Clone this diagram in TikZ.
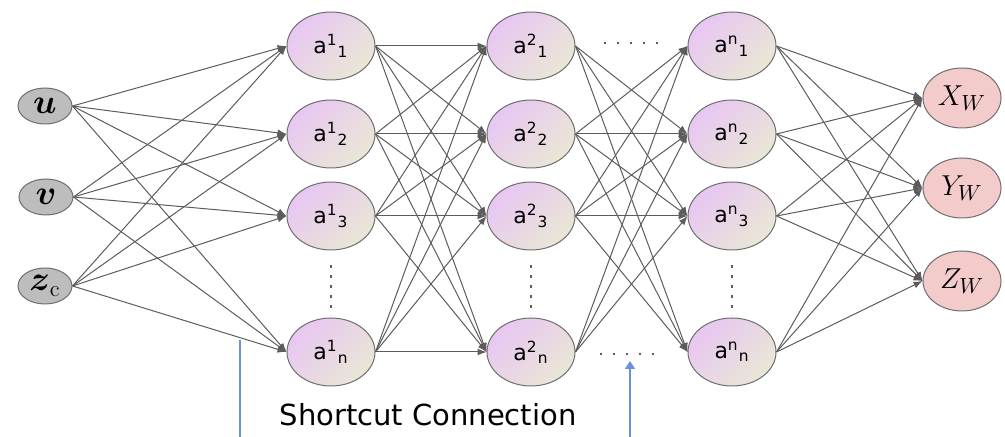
\documentclass[tikz,border=0pt]{standalone}
\usepackage{amsmath}
\usepackage{fontspec}
\setsansfont{DejaVu Sans}
\usetikzlibrary{arrows.meta,shapes.geometric}

\definecolor{ingray}{HTML}{BDBDBD}
\definecolor{hidtop}{HTML}{E8C6F2}
\definecolor{hidbot}{HTML}{E9E7D6}
\definecolor{outpink}{HTML}{F3CBCB}
\definecolor{rimgray}{HTML}{6E6E6E}
\definecolor{wiregray}{HTML}{5C5C5C}
\definecolor{scblue}{HTML}{6A92D8}

\begin{document}
\begin{tikzpicture}[x=0.5pt,y=-0.5pt,
  unit/.style={ellipse,draw=rimgray,line width=0.5pt,inner sep=0pt},
  inunit/.style={unit,fill=ingray,minimum width=27pt,minimum height=18pt,
    font=\fontsize{16}{18}\selectfont},
  hidunit/.style={unit,top color=hidtop,bottom color=hidbot,shading angle=45,
    minimum width=44pt,minimum height=34pt,font=\sffamily\fontsize{11}{13}\selectfont},
  outunit/.style={unit,fill=outpink,minimum width=39pt,minimum height=30pt,
    font=\fontsize{15}{17}\selectfont},
  wire/.style={draw=wiregray,line width=0.5pt,-{Latex[length=4.5pt,width=3.5pt]}},
  vdots/.style={draw=wiregray,line width=1.4pt,dash pattern=on 1.3pt off 3.7pt},
  hdots/.style={draw=wiregray,line width=1.3pt,dash pattern=on 1.3pt off 5.2pt},
  scline/.style={draw=scblue,line width=0.8pt}]

\useasboundingbox (0,0) rectangle (1005,437);

% input layer
\node[inunit] (u)  at (45,106) {$\boldsymbol{u}$};
\node[inunit] (v)  at (46,197) {$\boldsymbol{v}$};
\node[inunit] (zc) at (45,286) {$\boldsymbol{z}_{\mathrm{c}}$};

% hidden layers
\foreach \l/\x in {1/331,2/531,n/732}
  \foreach \k/\y in {1/46,2/134,3/216,n/352}
    \node[hidunit] (h\l\k) at (\x,\y) {a\textsuperscript{\l}\textsubscript{\k}};

% output layer
\node[outunit] (oX) at (962,98)  {$X_W$};
\node[outunit] (oY) at (962,188) {$Y_W$};
\node[outunit] (oZ) at (962,281) {$Z_W$};

% connections
\foreach \i in {u,v,zc}
  \foreach \k in {1,2,3,n}
    \draw[wire] (\i.east) -- (h1\k.west);
\foreach \j in {1,2,3,n}
  \foreach \k in {1,2,3,n}
    \draw[wire] (h1\j.east) -- (h2\k.west);
\foreach \j/\k in {1/2,1/3,1/n,2/1,2/2,2/3,2/n,3/1,3/2,3/3,3/n,n/1,n/2,n/3}
  \draw[wire] (h2\j.east) -- (hn\k.west);
\foreach \k in {1,2,3,n}
  \foreach \o in {X,Y,Z}
    \draw[wire] (hn\k.east) -- (o\o.west);

% dots
\foreach \l in {1,2,n}
  \draw[vdots,shorten <=7.5pt,shorten >=1pt] (h\l3.south) -- (h\l n.north);
\draw[hdots,shorten <=14pt,shorten >=10pt] ([yshift=1.5pt]h21.east) -- ([yshift=1.5pt]hn1.west);
\draw[hdots,shorten <=12pt,shorten >=17pt] ([yshift=-1pt]h2n.east) -- ([yshift=-1pt]hnn.west);

% shortcut
\coordinate (sctop1) at (240,340);
\coordinate (scbot1) at (240,437);
\coordinate (sctop2) at (630,361);
\coordinate (scbot2) at (630,437);
\draw[scline] (scbot1) -- (sctop1);
\draw[scline,-{Triangle[length=4pt,width=5pt]}] (scbot2) -- (sctop2);
\node[font=\sffamily\fontsize{14.5}{17}\selectfont] (sclabel) at (428,415) {Shortcut Connection};

\end{tikzpicture}
\end{document}
